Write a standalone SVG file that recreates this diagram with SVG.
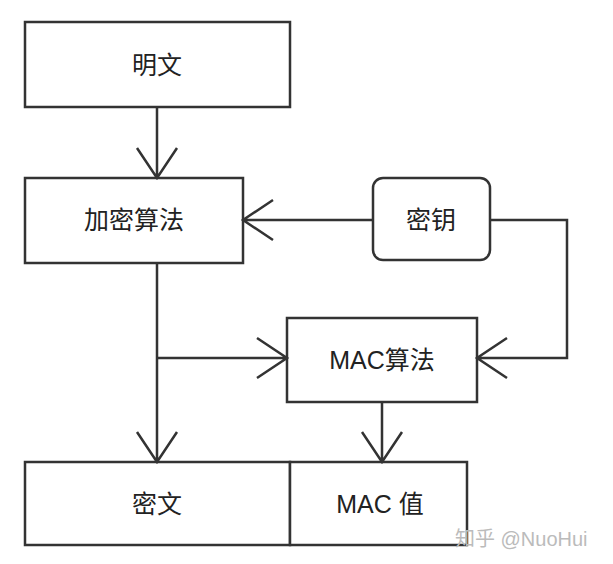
<svg xmlns="http://www.w3.org/2000/svg" width="613" height="564" viewBox="0 0 613 564">
<style>
.b{fill:#fff;stroke:#333;stroke-width:2.5}
.t{font-family:"Liberation Sans","Noto Sans CJK SC",sans-serif;font-size:25px;fill:#222;text-anchor:middle;dominant-baseline:central}
.l{fill:none;stroke:#333;stroke-width:2.5}
</style>
<rect width="613" height="564" fill="#fff"/>
<g id="n1"><rect class="b" x="25" y="22" width="265" height="85"/><text class="t" x="157" y="65">明文</text></g>
<g id="n2"><rect class="b" x="25" y="178" width="218" height="85"/><text class="t" x="134" y="220">加密算法</text></g>
<g id="n3"><rect class="b" x="373" y="178" width="117" height="82" rx="10"/><text class="t" x="431" y="220">密钥</text></g>
<g id="n4"><rect class="b" x="287" y="318" width="190" height="84"/><text class="t" x="382" y="360">MAC算法</text></g>
<g id="n5"><rect class="b" x="25" y="462" width="265" height="83"/><text class="t" x="157" y="504">密文</text></g>
<g id="n6"><rect class="b" x="290" y="462" width="177" height="83"/><text class="t" x="380" y="504">MAC 值</text></g>
<g id="edges" class="l">
<path d="M157 107V178M137 148L157 178L177 148"/>
<path d="M373 220H243M273 200L243 220L273 240"/>
<path d="M490 220H567V358H477M507 338L477 358L507 378"/>
<path d="M157 263V462M137 432L157 462L177 432"/>
<path d="M157 358H287M257 338L287 358L257 378"/>
<path d="M382 402V462M362 432L382 462L402 432"/>
</g>
<text x="455" y="546" style="font-family:'Liberation Sans','Noto Sans CJK SC',sans-serif;font-size:20px;fill:#bbb">知乎 @NuoHui</text>
</svg>
